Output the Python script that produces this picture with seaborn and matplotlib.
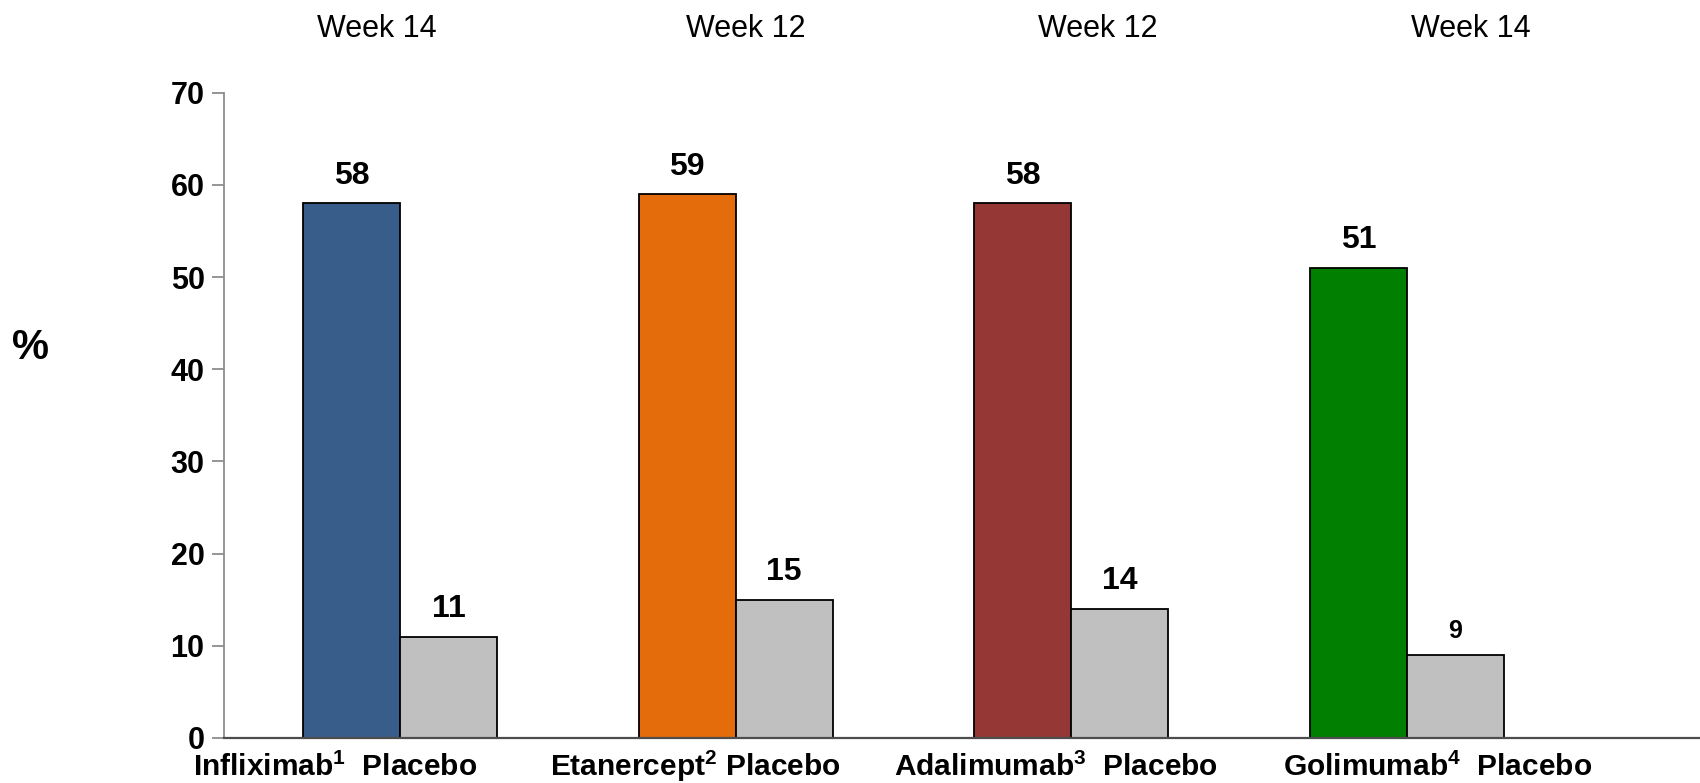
import matplotlib
matplotlib.use("Agg")
import matplotlib.pyplot as plt
import matplotlib.transforms as mtransforms
import pandas as pd
import seaborn as sns

# Response rates (%) for each anti-TNF agent and its placebo arm
groups = ["Infliximab", "Etanercept", "Adalimumab", "Golimumab"]
drug_pct = [58, 59, 58, 51]
placebo_pct = [11, 15, 14, 9]
weeks = ["Week 14", "Week 12", "Week 12", "Week 14"]
group_labels = [
    r"Infliximab$^{\mathbf{1}}$  Placebo",
    r"Etanercept$^{\mathbf{2}}$ Placebo",
    r"Adalimumab$^{\mathbf{3}}$  Placebo",
    r"Golimumab$^{\mathbf{4}}$  Placebo",
]
y_ticks = [0, 10, 20, 30, 40, 50, 60, 70]

# Styling
drug_colors = ["#385D8A", "#E46C0A", "#953735", "#007F00"]
placebo_color = "#C0C0C0"
placebo_label_sizes = [23, 23, 23, 18]
week_x = [-0.07, 1.03, 2.08, 3.19]
label_x = [-0.617, 0.446, 1.473, 2.631]

df = pd.DataFrame({
    "group": groups * 2,
    "arm": ["Drug"] * len(groups) + ["Placebo"] * len(groups),
    "pct": drug_pct + placebo_pct,
})

sns.set_theme(style="white")
plt.rcParams["font.family"] = ["Liberation Sans", "DejaVu Sans"]
plt.rcParams["text.color"] = "black"
plt.rcParams["axes.labelcolor"] = "black"
plt.rcParams["ytick.color"] = "black"
plt.rcParams["mathtext.fontset"] = "custom"
plt.rcParams["mathtext.rm"] = "Liberation Sans"
plt.rcParams["mathtext.bf"] = "Liberation Sans:bold"

fig = plt.figure(figsize=(17, 7.83), dpi=100)
ax_left = 0.1318
ax = fig.add_axes([ax_left, 0.0575, 1.0 - ax_left, 0.8816 - 0.0575])

sns.barplot(
    data=df, x="group", y="pct", hue="arm", hue_order=["Drug", "Placebo"],
    palette=[drug_colors[0], placebo_color], width=0.578, gap=0,
    edgecolor="black", linewidth=1.3, legend=False, ax=ax,
)

# Each drug bar has its own colour
for patch, color in zip(ax.containers[0], drug_colors):
    patch.set_facecolor(color)

ax.bar_label(ax.containers[0], labels=[str(v) for v in drug_pct],
             padding=9, fontsize=23, fontweight="bold", color="black")
placebo_texts = ax.bar_label(ax.containers[1], labels=[str(v) for v in placebo_pct],
                             padding=9, fontsize=23, fontweight="bold", color="black")
for txt, size in zip(placebo_texts, placebo_label_sizes):
    txt.set_fontsize(size)

ax.set_xlim(-0.524, 3.873)
ax.set_ylim(0, 70)
ax.set_yticks(y_ticks)
ax.set_yticklabels([str(t) for t in y_ticks], fontsize=22, fontweight="bold",
                   color="black")
ax.set_xticks([])
ax.set_xlabel("")
ax.set_ylabel("")

for side in ("top", "right"):
    ax.spines[side].set_visible(False)
ax.spines["left"].set_color("#8C8C8C")
ax.spines["left"].set_linewidth(1.3)
ax.spines["bottom"].set_color("#4D4D4D")
ax.spines["bottom"].set_linewidth(1.6)
ax.tick_params(axis="y", direction="out", length=9, width=1.3,
               color="#8C8C8C", labelcolor="black", pad=5, left=True)

blend = mtransforms.blended_transform_factory(ax.transData, fig.transFigure)
for x, w in zip(week_x, weeks):
    fig.text(x, 0.9527, w, transform=blend, ha="center", va="baseline",
             fontsize=22, color="black")
for x, lab in zip(label_x, group_labels):
    fig.text(x, 0.0088, lab, transform=blend, ha="left", va="baseline",
             fontsize=21.5, fontweight="bold", color="black")

fig.text(0.0182, 0.556, "%", ha="center", va="center",
         fontsize=30, fontweight="bold", color="black")

fig.savefig("out.png", dpi=100, facecolor="white")
